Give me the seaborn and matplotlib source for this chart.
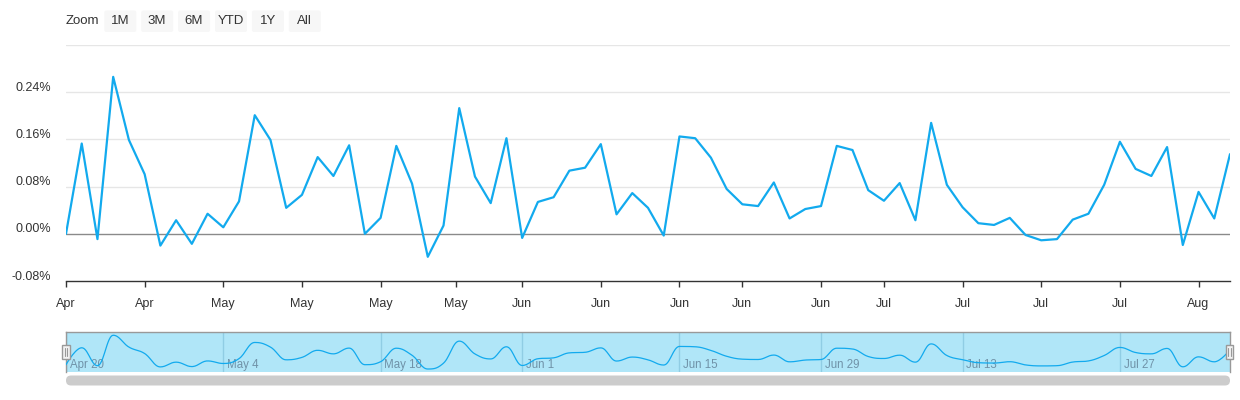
import numpy as np
import pandas as pd
import matplotlib
matplotlib.use('Agg')
import matplotlib.pyplot as plt
import seaborn as sns
from matplotlib.patches import FancyBboxPatch, Rectangle
from matplotlib.transforms import ScaledTranslation, blended_transform_factory

# daily returns in percent
returns = [0.000, 0.153, -0.009, 0.266, 0.159, 0.101, -0.020, 0.023, -0.017, 0.034,
           0.011, 0.055, 0.201, 0.159, 0.044, 0.066, 0.130, 0.098, 0.150, 0.000,
           0.027, 0.149, 0.085, -0.039, 0.014, 0.213, 0.097, 0.052, 0.162, -0.007,
           0.054, 0.062, 0.107, 0.112, 0.152, 0.033, 0.069, 0.044, -0.003, 0.165,
           0.162, 0.129, 0.076, 0.050, 0.047, 0.087, 0.026, 0.042, 0.047, 0.149,
           0.142, 0.074, 0.056, 0.086, 0.023, 0.188, 0.083, 0.045, 0.018, 0.015,
           0.027, -0.002, -0.011, -0.009, 0.024, 0.034, 0.083, 0.156, 0.110, 0.098,
           0.147, -0.019, 0.071, 0.026, 0.135]

x_tick_pos = [0, 5, 10, 15, 20, 24.77, 29, 34, 39, 43, 48, 52, 57, 62, 67, 72]
x_tick_labels = ['Apr', 'Apr', 'May', 'May', 'May', 'May', 'Jun', 'Jun',
                 'Jun', 'Jun', 'Jun', 'Jul', 'Jul', 'Jul', 'Jul', 'Aug']
y_ticks = [-0.08, 0.00, 0.08, 0.16, 0.24]
nav_pos = [0, 10, 20, 29, 39, 48, 57, 67]
nav_labels = ['Apr 20', 'May 4', 'May 18', 'Jun 1', 'Jun 15', 'Jun 29', 'Jul 13', 'Jul 27']
buttons = ['1M', '3M', '6M', 'YTD', '1Y', 'All']

LINE = '#12aaee'
W, H = 1240, 400


def spline(xs, ys, n=16):
    # highcharts style smoothed curve through the points
    xs = np.asarray(xs, float)
    ys = np.asarray(ys, float)
    m = len(xs)
    lx, ly, rx, ry = xs.copy(), ys.copy(), xs.copy(), ys.copy()
    for i in range(1, m - 1):
        px, py = xs[i], ys[i]
        ax_, ay = xs[i - 1], ys[i - 1]
        bx, by = xs[i + 1], ys[i + 1]
        lcx, lcy = (1.5 * px + ax_) / 2.5, (1.5 * py + ay) / 2.5
        rcx, rcy = (1.5 * px + bx) / 2.5, (1.5 * py + by) / 2.5
        corr = (rcy - lcy) * (rcx - px) / (rcx - lcx) + py - rcy
        lcy += corr
        rcy += corr
        if lcy > ay and lcy > py:
            lcy = max(ay, py); rcy = 2 * py - lcy
        elif lcy < ay and lcy < py:
            lcy = min(ay, py); rcy = 2 * py - lcy
        if rcy > by and rcy > py:
            rcy = max(by, py); lcy = 2 * py - rcy
        elif rcy < by and rcy < py:
            rcy = min(by, py); lcy = 2 * py - rcy
        lx[i], ly[i], rx[i], ry[i] = lcx, lcy, rcx, rcy
    t = np.linspace(0, 1, n, endpoint=False)[:, None]
    out_x, out_y = [], []
    for i in range(1, m):
        p = np.array([[xs[i - 1], ys[i - 1]], [rx[i - 1], ry[i - 1]], [lx[i], ly[i]], [xs[i], ys[i]]])
        c = ((1 - t) ** 3) * p[0] + 3 * ((1 - t) ** 2) * t * p[1] + 3 * (1 - t) * t ** 2 * p[2] + t ** 3 * p[3]
        out_x.extend(c[:, 0]); out_y.extend(c[:, 1])
    out_x.append(xs[-1]); out_y.append(ys[-1])
    return np.array(out_x), np.array(out_y)


sns.set_theme(style='white')
plt.rcParams['font.family'] = ['Liberation Sans', 'DejaVu Sans']

fig = plt.figure(figsize=(12.4, 4), dpi=100)
df = pd.DataFrame({'day': np.arange(len(returns)), 'ret': returns})

# main chart
ax = fig.add_axes([66 / W, 1 - 281 / H, 1164 / W, 236 / H])
for y in [0.08, 0.16, 0.24, 0.32]:
    ax.axhline(y, color='#e6e6e6', lw=1, zorder=0)
ax.axhline(0, color='#8a8a8a', lw=1, zorder=1)
sns.lineplot(data=df, x='day', y='ret', ax=ax, color=LINE, lw=1.6, zorder=3)
ax.set_xlim(0, len(returns) - 1)
ax.set_ylim(-0.08, 0.32)
ax.set_yticks(y_ticks, [f'{v:.2f}%' for v in y_ticks])
ax.set_xticks(x_tick_pos, x_tick_labels)
ax.set_xlabel('')
ax.set_ylabel('')
ax.tick_params(axis='y', length=0, pad=11, labelsize=9, labelcolor='#333333')
ax.tick_params(axis='x', bottom=True, length=4, width=1, color='#333333', pad=8,
               labelsize=9, labelcolor='#333333')
for lab in ax.get_yticklabels():
    lab.set_transform(lab.get_transform() + ScaledTranslation(0, 0.06, fig.dpi_scale_trans))
for s in ['top', 'right', 'left']:
    ax.spines[s].set_visible(False)
ax.spines['bottom'].set_color('#333333')
ax.spines['bottom'].set_linewidth(1)

# navigator
nav = fig.add_axes([66 / W, 1 - 372 / H, 1164 / W, 40.5 / H])
nav.set_facecolor('#b0e6f8')
for p in nav_pos:
    nav.axvline(p, color='#90cde4', lw=1, zorder=1)
sx, sy = spline(df['day'], df['ret'])
sns.lineplot(x=sx, y=sy, ax=nav, color=LINE, lw=0.9, zorder=3)
nav.set_xlim(0, len(returns) - 1)
nav.set_ylim(-0.066, 0.30)
tr = blended_transform_factory(nav.transData, nav.transAxes)
for p, lab in zip(nav_pos, nav_labels):
    nav.text(p + 0.23, 0.1, lab, transform=tr, ha='left', va='baseline',
             fontsize=8.3, color='#7092a8', zorder=2)
nav.set_xticks([])
nav.set_yticks([])
nav.set_xlabel('')
nav.set_ylabel('')
nav.spines['bottom'].set_visible(False)
for s in ['top', 'left', 'right']:
    nav.spines[s].set_color('#999999')
    nav.spines[s].set_linewidth(1)

# overlay in pixel coordinates for range selector, scrollbar and handles
ov = fig.add_axes([0, 0, 1, 1], facecolor='none')
ov.set_xlim(0, W)
ov.set_ylim(H, 0)
ov.axis('off')

ov.text(66, 21.5, 'Zoom', ha='left', va='center', fontsize=9.5, color='#333333')
for i, b in enumerate(buttons):
    x0 = 104.3 + i * 36.9
    ov.add_patch(FancyBboxPatch((x0, 10.5), 32, 21.5, boxstyle='round,pad=0,rounding_size=2',
                                fc='#f7f7f7', ec='none'))
    ov.text(x0 + 16, 21.5, b, ha='center', va='center', fontsize=9.5, color='#333333')

ov.add_patch(FancyBboxPatch((66, 375.5), 1164, 10, boxstyle='round,pad=0,rounding_size=5',
                            fc='#cccccc', ec='none'))

for hx in [65.7, 1229.5]:
    ov.add_patch(Rectangle((hx - 3.8, 344.5), 7.6, 14.5, fc='#f2f2f2', ec='#999999', lw=1))
    ov.plot([hx - 1.2, hx - 1.2], [348, 355.5], color='#999999', lw=0.8)
    ov.plot([hx + 1.2, hx + 1.2], [348, 355.5], color='#999999', lw=0.8)

fig.savefig('out.png', dpi=100)
